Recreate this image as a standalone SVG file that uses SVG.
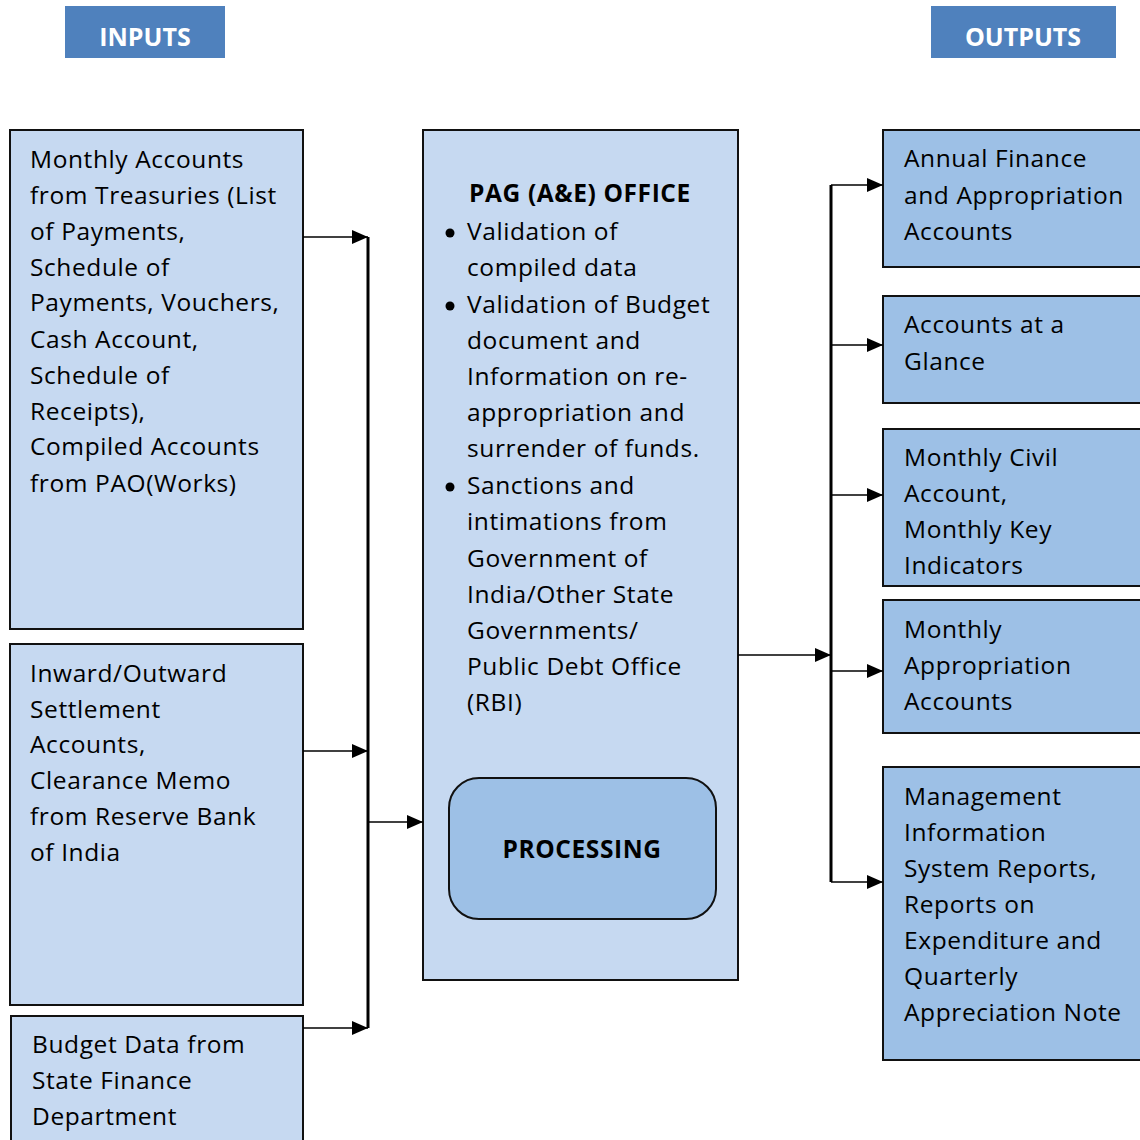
<svg xmlns="http://www.w3.org/2000/svg" width="1140" height="1140" viewBox="0 0 1140 1140">
  <style>
    .hdr { fill: #4F81BD; }
    .hdr-t { font-family: "Open Sans", "Noto Sans", sans-serif; font-weight: bold; font-size: 25px; fill: #ffffff; text-anchor: middle; }
    .light { fill: #C6D9F1; stroke: #111; stroke-width: 2; }
    .mid { fill: #9DC0E6; stroke: #111; stroke-width: 2; }
    .t { font-family: "Open Sans", "Noto Sans", sans-serif; font-size: 24.5px; letter-spacing: 0.6px; fill: #000; }
    .b { font-family: "Open Sans", "Noto Sans", sans-serif; font-size: 24.5px; letter-spacing: 0.6px; font-weight: bold; fill: #000; text-anchor: middle; }
    .thin { stroke: #000; stroke-width: 1.6; fill: none; }
    .thick { stroke: #000; stroke-width: 3; fill: none; }
  </style>
  <defs>
    <marker id="arr" markerWidth="16" markerHeight="14" refX="16" refY="7" orient="auto" markerUnits="userSpaceOnUse">
      <path d="M0,0 L16,7 L0,14 Z" fill="#000"/>
    </marker>
  </defs>

  <rect width="1140" height="1140" fill="#fff"/>

  <!-- headers -->
  <g id="inputs-header">
    <rect class="hdr" x="65" y="6" width="160" height="52"/>
    <text class="hdr-t" x="145" y="46">INPUTS</text>
  </g>
  <g id="outputs-header">
    <rect class="hdr" x="931" y="6" width="185" height="52"/>
    <text class="hdr-t" x="1023" y="46">OUTPUTS</text>
  </g>

  <!-- input nodes -->
  <g id="in-treasuries">
    <rect class="light" x="10" y="130" width="293" height="499"/>
    <text class="t">
      <tspan x="30" y="168">Monthly Accounts</tspan>
      <tspan x="30" y="204">from Treasuries (List</tspan>
      <tspan x="30" y="240">of Payments,</tspan>
      <tspan x="30" y="276">Schedule of</tspan>
      <tspan x="30" y="311">Payments, Vouchers,</tspan>
      <tspan x="30" y="348">Cash Account,</tspan>
      <tspan x="30" y="384">Schedule of</tspan>
      <tspan x="30" y="420">Receipts),</tspan>
      <tspan x="30" y="455">Compiled Accounts</tspan>
      <tspan x="30" y="492">from PAO(Works)</tspan>
    </text>
  </g>
  <g id="in-rbi">
    <rect class="light" x="10" y="644" width="293" height="361"/>
    <text class="t">
      <tspan x="30" y="682">Inward/Outward</tspan>
      <tspan x="30" y="718">Settlement</tspan>
      <tspan x="30" y="753">Accounts,</tspan>
      <tspan x="30" y="789">Clearance Memo</tspan>
      <tspan x="30" y="825">from Reserve Bank</tspan>
      <tspan x="30" y="861">of India</tspan>
    </text>
  </g>
  <g id="in-budget">
    <rect class="light" x="11" y="1016" width="292" height="140"/>
    <text class="t">
      <tspan x="32" y="1053">Budget Data from</tspan>
      <tspan x="32" y="1089">State Finance</tspan>
      <tspan x="32" y="1125">Department</tspan>
    </text>
  </g>

  <!-- central office -->
  <g id="pag-office">
    <rect class="light" x="423" y="130" width="315" height="850"/>
    <text class="b" x="580" y="202">PAG (A&amp;E) OFFICE</text>
    <g fill="#000">
      <circle cx="450" cy="233" r="4.5"/>
      <circle cx="450" cy="306" r="4.5"/>
      <circle cx="450" cy="487" r="4.5"/>
    </g>
    <text class="t">
      <tspan x="467" y="240">Validation of</tspan>
      <tspan x="467" y="276">compiled data</tspan>
      <tspan x="467" y="313">Validation of Budget</tspan>
      <tspan x="467" y="349">document and</tspan>
      <tspan x="467" y="385">Information on re-</tspan>
      <tspan x="467" y="421">appropriation and</tspan>
      <tspan x="467" y="457">surrender of funds.</tspan>
      <tspan x="467" y="494">Sanctions and</tspan>
      <tspan x="467" y="530">intimations from</tspan>
      <tspan x="467" y="567">Government of</tspan>
      <tspan x="467" y="603">India/Other State</tspan>
      <tspan x="467" y="639">Governments/</tspan>
      <tspan x="467" y="675">Public Debt Office</tspan>
      <tspan x="467" y="711">(RBI)</tspan>
    </text>
  </g>
  <g id="processing">
    <rect class="mid" x="449" y="778" width="267" height="141" rx="30" ry="30"/>
    <text class="b" x="582" y="858">PROCESSING</text>
  </g>

  <!-- output nodes -->
  <g id="out-finance">
    <rect class="mid" x="883" y="130" width="270" height="137"/>
    <text class="t">
      <tspan x="904" y="167">Annual Finance</tspan>
      <tspan x="904" y="204">and Appropriation</tspan>
      <tspan x="904" y="240">Accounts</tspan>
    </text>
  </g>
  <g id="out-glance">
    <rect class="mid" x="883" y="296" width="270" height="107"/>
    <text class="t">
      <tspan x="904" y="333">Accounts at a</tspan>
      <tspan x="904" y="370">Glance</tspan>
    </text>
  </g>
  <g id="out-civil">
    <rect class="mid" x="883" y="429" width="270" height="157"/>
    <text class="t">
      <tspan x="904" y="466">Monthly Civil</tspan>
      <tspan x="904" y="502">Account,</tspan>
      <tspan x="904" y="538">Monthly Key</tspan>
      <tspan x="904" y="574">Indicators</tspan>
    </text>
  </g>
  <g id="out-appropriation">
    <rect class="mid" x="883" y="600" width="270" height="133"/>
    <text class="t">
      <tspan x="904" y="638">Monthly</tspan>
      <tspan x="904" y="674">Appropriation</tspan>
      <tspan x="904" y="710">Accounts</tspan>
    </text>
  </g>
  <g id="out-mis">
    <rect class="mid" x="883" y="767" width="270" height="293"/>
    <text class="t">
      <tspan x="904" y="805">Management</tspan>
      <tspan x="904" y="841">Information</tspan>
      <tspan x="904" y="877">System Reports,</tspan>
      <tspan x="904" y="913">Reports on</tspan>
      <tspan x="904" y="949">Expenditure and</tspan>
      <tspan x="904" y="985">Quarterly</tspan>
      <tspan x="904" y="1021">Appreciation Note</tspan>
    </text>
  </g>

  <!-- connectors -->
  <g id="connectors">
    <path class="thick" d="M368,237 V1028"/>
    <path class="thin" d="M303,237 H368" marker-end="url(#arr)"/>
    <path class="thin" d="M303,751 H368" marker-end="url(#arr)"/>
    <path class="thin" d="M303,1028 H368" marker-end="url(#arr)"/>
    <path class="thin" d="M369,822 H423" marker-end="url(#arr)"/>
    <path class="thin" d="M738,655 H831" marker-end="url(#arr)"/>
    <path class="thick" d="M831,185 V882"/>
    <path class="thin" d="M831,185 H883" marker-end="url(#arr)"/>
    <path class="thin" d="M831,345 H883" marker-end="url(#arr)"/>
    <path class="thin" d="M831,495 H883" marker-end="url(#arr)"/>
    <path class="thin" d="M831,671 H883" marker-end="url(#arr)"/>
    <path class="thin" d="M831,882 H883" marker-end="url(#arr)"/>
  </g>
</svg>
